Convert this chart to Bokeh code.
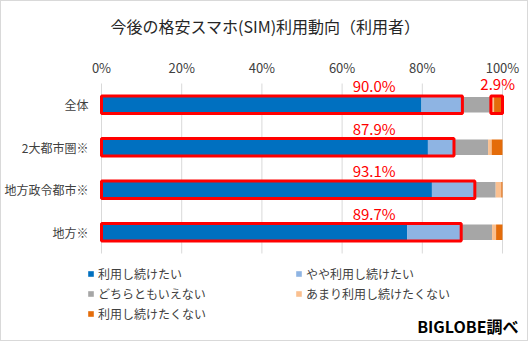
from bokeh.plotting import figure
from bokeh.models import (ColumnDataSource, Range1d, FixedTicker, Legend, LegendItem,
                          Label, Title)
from bokeh.embed import file_html
from bokeh.resources import INLINE

categories = ["全体", "2大都市圏※", "地方政令都市※", "地方※"]
series_names = ["利用し続けたい", "やや利用し続けたい", "どちらともいえない",
                "あまり利用し続けたくない", "利用し続けたくない"]
s1 = [79.8, 81.4, 82.4, 76.2]
s2 = [10.2, 6.5, 10.7, 13.5]
s3 = [7.1, 8.5, 5.2, 7.7]
s4 = [0.8, 0.9, 1.4, 1.0]
s5 = [2.1, 2.7, 0.3, 1.6]
highlight_labels = ["90.0%", "87.9%", "93.1%", "89.7%"]
negative_label = "2.9%"
x_ticks = [0, 20, 40, 60, 80, 100]

colors = ["#0070C0", "#8EB4E3", "#A6A6A6", "#FAC090", "#E46C0A"]
FONT = "Noto Sans CJK JP"

n = len(categories)
ys = [i + 0.5 for i in range(n)]
keys = ["s1", "s2", "s3", "s4", "s5"]
source = ColumnDataSource(dict(y=ys, s1=s1, s2=s2, s3=s3, s4=s4, s5=s5))

# plot is 528 x 341 plus a 1px CSS border -> 530 x 343 on screen
W, H = 528, 341
FL, FT = 85, 76                 # frame left/top (plot pixels)
X0, X100 = 100, 501             # pixel of 0% and 100%
PX = (X100 - X0) / 100.0
UNIT = 42.5                     # pixels per category row
Y0 = 82                         # pixel of the top of the first row
x_start = -(X0 - FL) / PX
x_end = 100 + (W - X100) / PX
y_top = -(Y0 - FT) / UNIT
y_bottom = y_top + (H - FT) / UNIT

p = figure(width=W, height=H, output_backend="svg", toolbar_location=None,
           x_range=Range1d(x_start, x_end), y_range=Range1d(y_bottom, y_top),
           x_axis_location="above",
           min_border_left=FL, min_border_right=0,
           min_border_top=FT, min_border_bottom=0)
p.styles = {"border": "1px solid #D9D9D9"}
p.outline_line_color = None
p.background_fill_color = "white"
p.border_fill_color = "white"

# grid lines (only over the bar area)
p.segment(x0=x_ticks, x1=x_ticks, y0=[0] * len(x_ticks), y1=[n] * len(x_ticks),
          line_color="#D9D9D9", line_width=1)

renderers = p.hbar_stack(keys, y="y", height=0.37, color=colors, line_color=None, source=source)

# red highlight boxes
pos_tot = [a + b for a, b in zip(s1, s2)]
p.hbar(y=ys, left=[0] * n, right=pos_tot, height=0.41, fill_color=None,
       line_color="#FF0000", line_width=3)
neg0 = s4[0] + s5[0]
p.hbar(y=[ys[0]], left=[100 - neg0], right=[100], height=0.41, fill_color=None,
       line_color="#FF0000", line_width=3)

# axes
p.xaxis.ticker = FixedTicker(ticks=x_ticks)
p.xaxis.major_label_overrides = {t: f"{t}%" for t in x_ticks}
p.xaxis.axis_line_color = None
p.xaxis.major_tick_line_color = None
p.xaxis.minor_tick_line_color = None
p.xaxis.major_label_standoff = -5
p.xaxis.major_label_text_font = FONT
p.xaxis.major_label_text_font_size = "13px"
p.xaxis.major_label_text_color = "#404040"

p.yaxis.ticker = FixedTicker(ticks=ys)
p.yaxis.major_label_overrides = {y: c for y, c in zip(ys, categories)}
p.yaxis.axis_line_color = None
p.yaxis.major_tick_line_color = None
p.yaxis.minor_tick_line_color = None
p.yaxis.major_label_standoff = -8
p.yaxis.major_label_text_font = FONT
p.yaxis.major_label_text_font_size = "12px"
p.yaxis.major_label_text_color = "#404040"

p.xgrid.grid_line_color = None
p.ygrid.grid_line_color = None

# red labels
for y, t in zip(ys, highlight_labels):
    p.add_layout(Label(x=68, y=y - 0.45, text=t, text_align="center", text_baseline="middle",
                       text_color="#FF0000", text_font=FONT, text_font_size="15px"))
p.add_layout(Label(x=98.8, y=ys[0] - 0.5, text=negative_label, text_align="center",
                   text_baseline="middle", text_color="#FF0000", text_font=FONT,
                   text_font_size="15px"))

# spacer between the axis labels and the title
p.add_layout(Title(text=" ", text_font_size="1px", standoff=5), "above")

# title
p.title = Title(text="今後の格安スマホ(SIM)利用動向（利用者）", align="left",
                offset=109 - FL, text_font=FONT, text_font_size="16px",
                text_font_style="normal", text_color="#262626", standoff=18)

# legends (two columns)
items = [LegendItem(label=nm, renderers=[r]) for nm, r in zip(series_names, renderers)]
common = dict(orientation="vertical", glyph_width=7, glyph_height=7, label_standoff=4,
              label_height=20, spacing=0, padding=0, margin=0,
              border_line_color=None, background_fill_alpha=0,
              label_text_font=FONT, label_text_font_size="12px",
              label_text_color="#404040")
leg1 = Legend(items=[items[0], items[2], items[4]], location=(1, H - 322), **common)
leg2 = Legend(items=[items[1], items[3]], location=(209, H - 302), **common)
p.add_layout(leg1, "center")
p.add_layout(leg2, "center")

# source note
p.add_layout(Label(x=517 - FL, y=H - 324, x_units="screen", y_units="screen",
                   text="BIGLOBE調べ", text_align="right", text_baseline="middle",
                   text_font=FONT, text_font_size="16px", text_font_style="bold",
                   text_color="#000000"))

open("out.html", "w").write(file_html(p, INLINE))
